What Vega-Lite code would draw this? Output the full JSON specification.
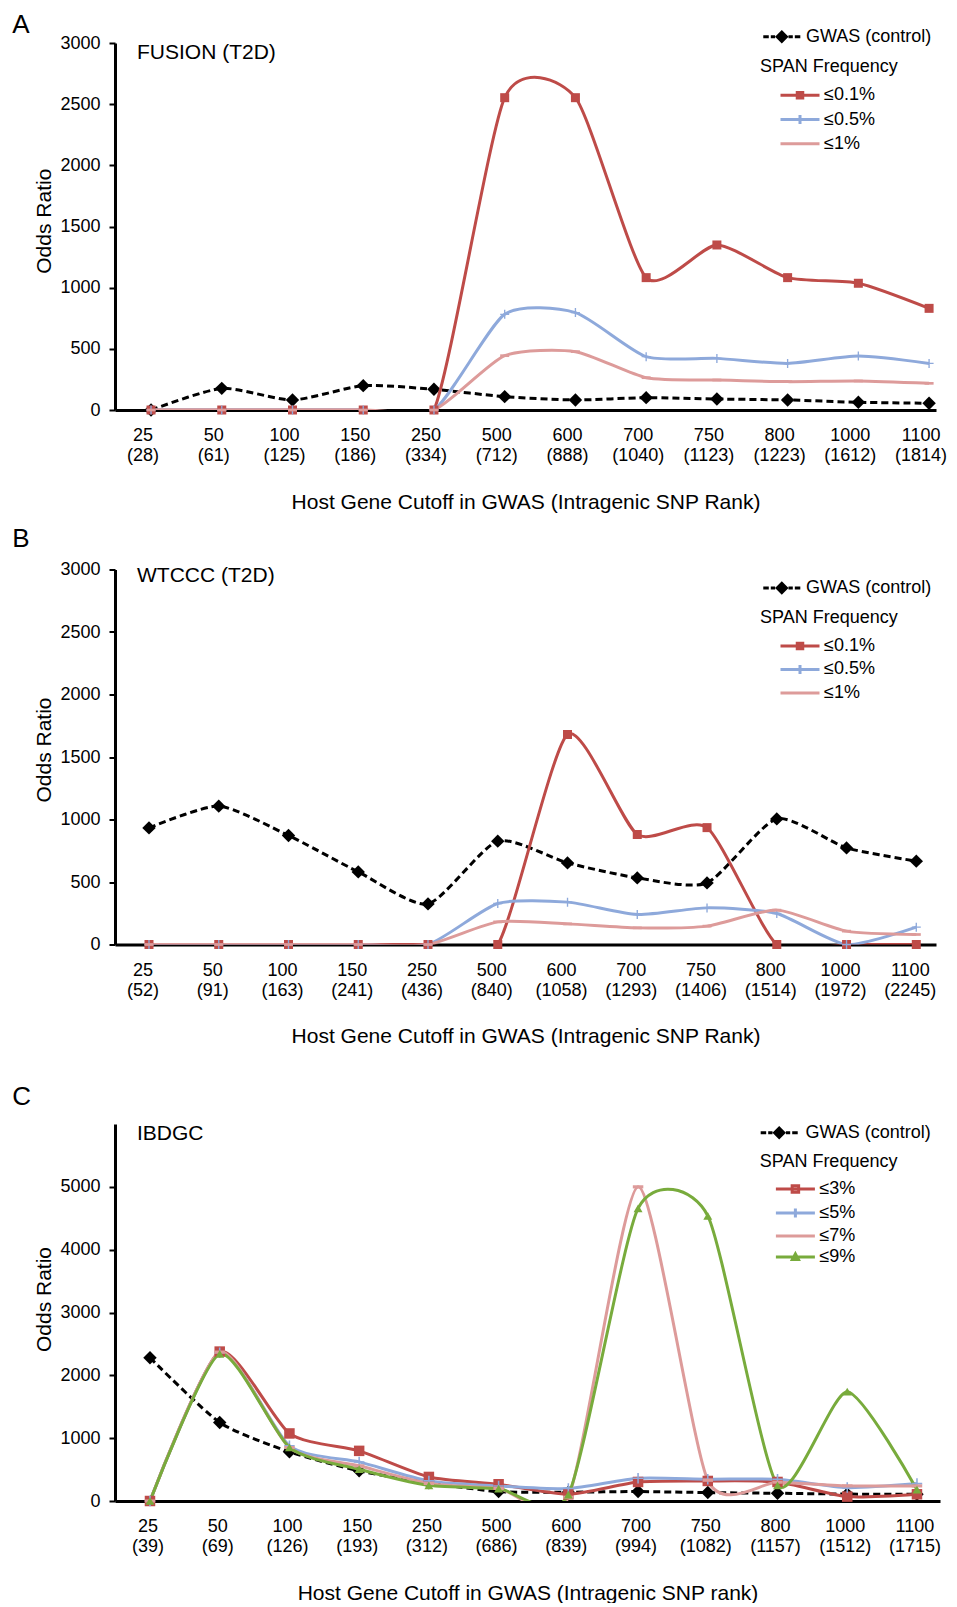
{
"$schema": "https://vega.github.io/schema/vega-lite/v6.json",
"background": "white",
"padding": {"left": 12, "top": 11, "right": 0, "bottom": 0},
"datasets": {
"fusion": [
{"cutoff":"25\n(28)","series":"GWAS (control)","odds":0},{"cutoff":"50\n(61)","series":"GWAS (control)","odds":177},{"cutoff":"100\n(125)","series":"GWAS (control)","odds":82},{"cutoff":"150\n(186)","series":"GWAS (control)","odds":199},{"cutoff":"250\n(334)","series":"GWAS (control)","odds":169},{"cutoff":"500\n(712)","series":"GWAS (control)","odds":109},{"cutoff":"600\n(888)","series":"GWAS (control)","odds":82},{"cutoff":"700\n(1040)","series":"GWAS (control)","odds":101},{"cutoff":"750\n(1123)","series":"GWAS (control)","odds":90},{"cutoff":"800\n(1223)","series":"GWAS (control)","odds":82},{"cutoff":"1000\n(1612)","series":"GWAS (control)","odds":63},{"cutoff":"1100\n(1814)","series":"GWAS (control)","odds":55},
{"cutoff":"25\n(28)","series":"≤0.1%","odds":0},{"cutoff":"50\n(61)","series":"≤0.1%","odds":0},{"cutoff":"100\n(125)","series":"≤0.1%","odds":0},{"cutoff":"150\n(186)","series":"≤0.1%","odds":0},{"cutoff":"250\n(334)","series":"≤0.1%","odds":0},{"cutoff":"500\n(712)","series":"≤0.1%","odds":2553},{"cutoff":"600\n(888)","series":"≤0.1%","odds":2553},{"cutoff":"700\n(1040)","series":"≤0.1%","odds":1082},{"cutoff":"750\n(1123)","series":"≤0.1%","odds":1349},{"cutoff":"800\n(1223)","series":"≤0.1%","odds":1082},{"cutoff":"1000\n(1612)","series":"≤0.1%","odds":1036},{"cutoff":"1100\n(1814)","series":"≤0.1%","odds":831},
{"cutoff":"25\n(28)","series":"≤0.5%","odds":0},{"cutoff":"50\n(61)","series":"≤0.5%","odds":0},{"cutoff":"100\n(125)","series":"≤0.5%","odds":0},{"cutoff":"150\n(186)","series":"≤0.5%","odds":0},{"cutoff":"250\n(334)","series":"≤0.5%","odds":0},{"cutoff":"500\n(712)","series":"≤0.5%","odds":782},{"cutoff":"600\n(888)","series":"≤0.5%","odds":796},{"cutoff":"700\n(1040)","series":"≤0.5%","odds":436},{"cutoff":"750\n(1123)","series":"≤0.5%","odds":422},{"cutoff":"800\n(1223)","series":"≤0.5%","odds":381},{"cutoff":"1000\n(1612)","series":"≤0.5%","odds":441},{"cutoff":"1100\n(1814)","series":"≤0.5%","odds":381},
{"cutoff":"25\n(28)","series":"≤1%","odds":0},{"cutoff":"50\n(61)","series":"≤1%","odds":0},{"cutoff":"100\n(125)","series":"≤1%","odds":0},{"cutoff":"150\n(186)","series":"≤1%","odds":0},{"cutoff":"250\n(334)","series":"≤1%","odds":0},{"cutoff":"500\n(712)","series":"≤1%","odds":444},{"cutoff":"600\n(888)","series":"≤1%","odds":477},{"cutoff":"700\n(1040)","series":"≤1%","odds":264},{"cutoff":"750\n(1123)","series":"≤1%","odds":245},{"cutoff":"800\n(1223)","series":"≤1%","odds":232},{"cutoff":"1000\n(1612)","series":"≤1%","odds":237},{"cutoff":"1100\n(1814)","series":"≤1%","odds":218}
],
"wtccc": [
{"cutoff":"25\n(52)","series":"GWAS (control)","odds":933},{"cutoff":"50\n(91)","series":"GWAS (control)","odds":1107},{"cutoff":"100\n(163)","series":"GWAS (control)","odds":872},{"cutoff":"150\n(241)","series":"GWAS (control)","odds":581},{"cutoff":"250\n(436)","series":"GWAS (control)","odds":325},{"cutoff":"500\n(840)","series":"GWAS (control)","odds":827},{"cutoff":"600\n(1058)","series":"GWAS (control)","odds":653},{"cutoff":"700\n(1293)","series":"GWAS (control)","odds":533},{"cutoff":"750\n(1406)","series":"GWAS (control)","odds":493},{"cutoff":"800\n(1514)","series":"GWAS (control)","odds":1005},{"cutoff":"1000\n(1972)","series":"GWAS (control)","odds":773},{"cutoff":"1100\n(2245)","series":"GWAS (control)","odds":667},
{"cutoff":"25\n(52)","series":"≤0.1%","odds":0},{"cutoff":"50\n(91)","series":"≤0.1%","odds":0},{"cutoff":"100\n(163)","series":"≤0.1%","odds":0},{"cutoff":"150\n(241)","series":"≤0.1%","odds":0},{"cutoff":"250\n(436)","series":"≤0.1%","odds":0},{"cutoff":"500\n(840)","series":"≤0.1%","odds":0},{"cutoff":"600\n(1058)","series":"≤0.1%","odds":1680},{"cutoff":"700\n(1293)","series":"≤0.1%","odds":880},{"cutoff":"750\n(1406)","series":"≤0.1%","odds":935},{"cutoff":"800\n(1514)","series":"≤0.1%","odds":0},{"cutoff":"1000\n(1972)","series":"≤0.1%","odds":0},{"cutoff":"1100\n(2245)","series":"≤0.1%","odds":0},
{"cutoff":"25\n(52)","series":"≤0.5%","odds":0},{"cutoff":"50\n(91)","series":"≤0.5%","odds":0},{"cutoff":"100\n(163)","series":"≤0.5%","odds":0},{"cutoff":"150\n(241)","series":"≤0.5%","odds":0},{"cutoff":"250\n(436)","series":"≤0.5%","odds":0},{"cutoff":"500\n(840)","series":"≤0.5%","odds":328},{"cutoff":"600\n(1058)","series":"≤0.5%","odds":339},{"cutoff":"700\n(1293)","series":"≤0.5%","odds":240},{"cutoff":"750\n(1406)","series":"≤0.5%","odds":293},{"cutoff":"800\n(1514)","series":"≤0.5%","odds":248},{"cutoff":"1000\n(1972)","series":"≤0.5%","odds":0},{"cutoff":"1100\n(2245)","series":"≤0.5%","odds":139},
{"cutoff":"25\n(52)","series":"≤1%","odds":0},{"cutoff":"50\n(91)","series":"≤1%","odds":0},{"cutoff":"100\n(163)","series":"≤1%","odds":0},{"cutoff":"150\n(241)","series":"≤1%","odds":0},{"cutoff":"250\n(436)","series":"≤1%","odds":0},{"cutoff":"500\n(840)","series":"≤1%","odds":181},{"cutoff":"600\n(1058)","series":"≤1%","odds":165},{"cutoff":"700\n(1293)","series":"≤1%","odds":133},{"cutoff":"750\n(1406)","series":"≤1%","odds":147},{"cutoff":"800\n(1514)","series":"≤1%","odds":275},{"cutoff":"1000\n(1972)","series":"≤1%","odds":107},{"cutoff":"1100\n(2245)","series":"≤1%","odds":80}
],
"ibdgc": [
{"cutoff":"25\n(39)","series":"GWAS (control)","odds":2280},{"cutoff":"50\n(69)","series":"GWAS (control)","odds":1250},{"cutoff":"100\n(126)","series":"GWAS (control)","odds":782},{"cutoff":"150\n(193)","series":"GWAS (control)","odds":480},{"cutoff":"250\n(312)","series":"GWAS (control)","odds":290},{"cutoff":"500\n(686)","series":"GWAS (control)","odds":150},{"cutoff":"600\n(839)","series":"GWAS (control)","odds":140},{"cutoff":"700\n(994)","series":"GWAS (control)","odds":150},{"cutoff":"750\n(1082)","series":"GWAS (control)","odds":134},{"cutoff":"800\n(1157)","series":"GWAS (control)","odds":123},{"cutoff":"1000\n(1512)","series":"GWAS (control)","odds":110},{"cutoff":"1100\n(1715)","series":"GWAS (control)","odds":107},
{"cutoff":"25\n(39)","series":"≤3%","odds":0},{"cutoff":"50\n(69)","series":"≤3%","odds":2378},{"cutoff":"100\n(126)","series":"≤3%","odds":1075},{"cutoff":"150\n(193)","series":"≤3%","odds":798},{"cutoff":"250\n(312)","series":"≤3%","odds":383},{"cutoff":"500\n(686)","series":"≤3%","odds":267},{"cutoff":"600\n(839)","series":"≤3%","odds":107},{"cutoff":"700\n(994)","series":"≤3%","odds":303},{"cutoff":"750\n(1082)","series":"≤3%","odds":319},{"cutoff":"800\n(1157)","series":"≤3%","odds":303},{"cutoff":"1000\n(1512)","series":"≤3%","odds":70},{"cutoff":"1100\n(1715)","series":"≤3%","odds":107},
{"cutoff":"25\n(39)","series":"≤5%","odds":0},{"cutoff":"50\n(69)","series":"≤5%","odds":2360},{"cutoff":"100\n(126)","series":"≤5%","odds":878},{"cutoff":"150\n(193)","series":"≤5%","odds":622},{"cutoff":"250\n(312)","series":"≤5%","odds":320},{"cutoff":"500\n(686)","series":"≤5%","odds":240},{"cutoff":"600\n(839)","series":"≤5%","odds":198},{"cutoff":"700\n(994)","series":"≤5%","odds":362},{"cutoff":"750\n(1082)","series":"≤5%","odds":346},{"cutoff":"800\n(1157)","series":"≤5%","odds":346},{"cutoff":"1000\n(1512)","series":"≤5%","odds":213},{"cutoff":"1100\n(1715)","series":"≤5%","odds":277},
{"cutoff":"25\n(39)","series":"≤7%","odds":0},{"cutoff":"50\n(69)","series":"≤7%","odds":2370},{"cutoff":"100\n(126)","series":"≤7%","odds":850},{"cutoff":"150\n(193)","series":"≤7%","odds":560},{"cutoff":"250\n(312)","series":"≤7%","odds":280},{"cutoff":"500\n(686)","series":"≤7%","odds":200},{"cutoff":"600\n(839)","series":"≤7%","odds":60},{"cutoff":"700\n(994)","series":"≤7%","odds":5000},{"cutoff":"750\n(1082)","series":"≤7%","odds":330},{"cutoff":"800\n(1157)","series":"≤7%","odds":300},{"cutoff":"1000\n(1512)","series":"≤7%","odds":240},{"cutoff":"1100\n(1715)","series":"≤7%","odds":240},
{"cutoff":"25\n(39)","series":"≤9%","odds":0},{"cutoff":"50\n(69)","series":"≤9%","odds":2340},{"cutoff":"100\n(126)","series":"≤9%","odds":852},{"cutoff":"150\n(193)","series":"≤9%","odds":506},{"cutoff":"250\n(312)","series":"≤9%","odds":250},{"cutoff":"500\n(686)","series":"≤9%","odds":198},{"cutoff":"600\n(839)","series":"≤9%","odds":100},{"cutoff":"700\n(994)","series":"≤9%","odds":4656},{"cutoff":"750\n(1082)","series":"≤9%","odds":4539},{"cutoff":"800\n(1157)","series":"≤9%","odds":250},{"cutoff":"1000\n(1512)","series":"≤9%","odds":1740},{"cutoff":"1100\n(1715)","series":"≤9%","odds":180}
]
},
"resolve": {"scale": {"color": "independent", "size": "independent"}, "legend": {"color": "independent", "size": "independent"}},
"vconcat": [
{"resolve": {"scale": {"color": "independent", "size": "independent"}, "legend": {"color": "independent", "size": "independent"}},
"vconcat": [
{
"resolve": {"scale": {"color": "independent", "size": "independent"}, "legend": {"color": "independent", "size": "independent"}},
"title": {"text": "A", "anchor": "start", "frame": "bounds", "fontSize": 26, "fontWeight": "normal", "baseline": "middle", "offset": -23.2, "dx": -20.9},
"vconcat": [{
"width": 821, "height": 367,
"data": {"name": "fusion"},
"title": {"text": "FUSION (T2D)", "anchor": "start", "frame": "group", "dx": 22, "offset": -46.2, "baseline": "middle", "fontSize": 21, "fontWeight": "normal"},
"encoding": {
"x": {"field": "cutoff", "type": "nominal", "sort": null, "scale": {"type": "point", "padding": 0.3036, "align": 0.839}, "axis": {"title": "Host Gene Cutoff in GWAS (Intragenic SNP Rank)", "labelExpr": "split(datum.label, '\\n')", "labelOffset": -8.5}},
"y": {"field": "odds", "type": "quantitative", "scale": {"domain": [0, 3000], "nice": false}, "axis": {"title": "Odds Ratio", "titleY": 177.7, "format": "d", "values": [0, 500, 1000, 1500, 2000, 2500, 3000]}}
},
"layer": [
{"transform": [{"filter": "datum.series === 'GWAS (control)'"}],
 "mark": {"type": "line", "color": "black", "strokeWidth": 3, "strokeDash": [7, 4], "interpolate": "cardinal", "tension": 0.35, "clip": true}},
{"transform": [{"filter": "datum.series === 'GWAS (control)'"}],
 "mark": {"type": "point", "shape": "diamond", "filled": true, "color": "black", "opacity": 1},
 "encoding": {"size": {"datum": "GWAS (control)", "type": "nominal", "scale": {"type": "point", "range": [180, 180]},
   "legend": {"title": null, "orient": "none", "legendX": 657.8, "legendY": -15.2, "labelOffset": 15.2, "padding": 0,
     "symbolType": "M-2.76,-0.22L-1.94,-0.22L-1.94,0.22L-2.76,0.22ZM-1.64,-0.22L-1,-0.22L-1,0.22L-1.64,0.22ZM-1,0L0,-1L1,0L0,1ZM1,-0.22L1.64,-0.22L1.64,0.22L1,0.22ZM1.94,-0.22L2.76,-0.22L2.76,0.22L1.94,0.22Z"}}}},
{"transform": [{"filter": "datum.series !== 'GWAS (control)'"}],
 "mark": {"type": "line", "strokeWidth": 3, "interpolate": "cardinal", "tension": 0.35, "clip": true},
 "encoding": {"color": {"field": "series", "type": "nominal", "scale": {"domain": ["≤0.1%", "≤0.5%", "≤1%"], "range": ["#BE4B48", "#8EA9DB", "#DD9B9A"]},
   "legend": {"title": "SPAN Frequency", "orient": "none", "legendX": 645, "legendY": 15.4, "titlePadding": 9.9, "rowPadding": 4.2, "symbolSize": 100, "symbolStrokeWidth": 3, "symbolOffset": 31, "labelOffset": 15, "padding": 0, "symbolType": "M-3.9,0L3.9,0",
     "encode": {"symbols": {"update": {"shape": {"signal": "datum.index === 0 ? 'M-3.9,0L3.9,0M-0.55,-0.55L0.55,-0.55L0.55,0.55L-0.55,0.55Z' : datum.index === 1 ? 'M-3.9,0L3.9,0M0,-0.9L0,0.9' : 'M-3.9,0L3.9,0'"}}}}}}}},
{"transform": [{"filter": "datum.series === '≤0.1%'"}], "mark": {"type": "point", "shape": "square", "filled": true, "color": "#BE4B48", "size": 81, "opacity": 1}},
{"transform": [{"filter": "datum.series === '≤0.5%'"}], "mark": {"type": "point", "shape": "M-1,-0.15L-0.15,-0.15L-0.15,-1L0.15,-1L0.15,-0.15L1,-0.15L1,0.15L0.15,0.15L0.15,1L-0.15,1L-0.15,0.15L-1,0.15Z", "filled": true, "color": "#8EA9DB", "size": 81, "opacity": 1}},
{"transform": [{"filter": "datum.series === '≤1%'"}], "mark": {"type": "point", "shape": "M-1,-0.3L1,-0.3L1,0.3L-1,0.3Z", "filled": true, "color": "#DD9B9A", "size": 81, "opacity": 1}}
]
}]
},
{
"resolve": {"scale": {"color": "independent", "size": "independent"}, "legend": {"color": "independent", "size": "independent"}},
"title": {"text": "B", "anchor": "start", "frame": "bounds", "fontSize": 26, "fontWeight": "normal", "baseline": "middle", "offset": -4.5, "dx": -20.9},
"vconcat": [{
"width": 821, "height": 375,
"data": {"name": "wtccc"},
"title": {"text": "WTCCC (T2D)", "anchor": "start", "frame": "group", "dx": 22, "offset": -36, "baseline": "middle", "fontSize": 21, "fontWeight": "normal"},
"encoding": {
"x": {"field": "cutoff", "type": "nominal", "sort": null, "scale": {"type": "point", "padding": 0.385, "align": 0.633}, "axis": {"title": "Host Gene Cutoff in GWAS (Intragenic SNP Rank)", "labelExpr": "split(datum.label, '\\n')", "labelOffset": -6.5}},
"y": {"field": "odds", "type": "quantitative", "scale": {"domain": [0, 3000], "nice": false}, "axis": {"title": "Odds Ratio", "titleY": 180, "format": "d", "values": [0, 500, 1000, 1500, 2000, 2500, 3000]}}
},
"layer": [
{"transform": [{"filter": "datum.series === 'GWAS (control)'"}],
 "mark": {"type": "line", "color": "black", "strokeWidth": 3, "strokeDash": [7, 4], "interpolate": "cardinal", "tension": 0.35, "clip": true}},
{"transform": [{"filter": "datum.series === 'GWAS (control)'"}],
 "mark": {"type": "point", "shape": "diamond", "filled": true, "color": "black", "opacity": 1},
 "encoding": {"size": {"datum": "GWAS (control)", "type": "nominal", "scale": {"type": "point", "range": [180, 180]},
   "legend": {"title": null, "orient": "none", "legendX": 657.8, "legendY": 9.5, "labelOffset": 15.2, "padding": 0,
     "symbolType": "M-2.76,-0.22L-1.94,-0.22L-1.94,0.22L-2.76,0.22ZM-1.64,-0.22L-1,-0.22L-1,0.22L-1.64,0.22ZM-1,0L0,-1L1,0L0,1ZM1,-0.22L1.64,-0.22L1.64,0.22L1,0.22ZM1.94,-0.22L2.76,-0.22L2.76,0.22L1.94,0.22Z"}}}},
{"transform": [{"filter": "datum.series !== 'GWAS (control)'"}],
 "mark": {"type": "line", "strokeWidth": 3, "interpolate": "cardinal", "tension": 0.35, "clip": true},
 "encoding": {"color": {"field": "series", "type": "nominal", "scale": {"domain": ["≤0.1%", "≤0.5%", "≤1%"], "range": ["#BE4B48", "#8EA9DB", "#DD9B9A"]},
   "legend": {"title": "SPAN Frequency", "orient": "none", "legendX": 645, "legendY": 39.5, "titlePadding": 9.9, "rowPadding": 3.5, "symbolSize": 100, "symbolStrokeWidth": 3, "symbolOffset": 31, "labelOffset": 15, "padding": 0, "symbolType": "M-3.9,0L3.9,0",
     "encode": {"symbols": {"update": {"shape": {"signal": "datum.index === 0 ? 'M-3.9,0L3.9,0M-0.55,-0.55L0.55,-0.55L0.55,0.55L-0.55,0.55Z' : datum.index === 1 ? 'M-3.9,0L3.9,0M0,-0.9L0,0.9' : 'M-3.9,0L3.9,0'"}}}}}}}},
{"transform": [{"filter": "datum.series === '≤0.1%'"}], "mark": {"type": "point", "shape": "square", "filled": true, "color": "#BE4B48", "size": 81, "opacity": 1}},
{"transform": [{"filter": "datum.series === '≤0.5%'"}], "mark": {"type": "point", "shape": "M-1,-0.15L-0.15,-0.15L-0.15,-1L0.15,-1L0.15,-0.15L1,-0.15L1,0.15L0.15,0.15L0.15,1L-0.15,1L-0.15,0.15L-1,0.15Z", "filled": true, "color": "#8EA9DB", "size": 81, "opacity": 1}},
{"transform": [{"filter": "datum.series === '≤1%'"}], "mark": {"type": "point", "shape": "M-1,-0.3L1,-0.3L1,0.3L-1,0.3Z", "filled": true, "color": "#DD9B9A", "size": 81, "opacity": 1}}
]
}]
}
], "spacing": 13.5},
{
"resolve": {"scale": {"color": "independent", "size": "independent"}, "legend": {"color": "independent", "size": "independent"}},
"title": {"text": "C", "anchor": "start", "frame": "bounds", "fontSize": 26, "fontWeight": "normal", "baseline": "middle", "offset": 0, "dx": -20.9},
"vconcat": [{
"width": 825, "height": 377,
"data": {"name": "ibdgc"},
"title": {"text": "IBDGC", "anchor": "start", "frame": "group", "dx": 22, "offset": -31.3, "baseline": "middle", "fontSize": 21, "fontWeight": "normal"},
"encoding": {
"x": {"field": "cutoff", "type": "nominal", "sort": null, "scale": {"type": "point", "padding": 0.416, "align": 0.603}, "axis": {"title": "Host Gene Cutoff in GWAS (Intragenic SNP rank)", "labelExpr": "split(datum.label, '\\n')", "labelOffset": -2.5}},
"y": {"field": "odds", "type": "quantitative", "scale": {"domain": [0, 6000], "nice": false}, "axis": {"title": "Odds Ratio", "titleY": 175, "format": "d", "values": [0, 1000, 2000, 3000, 4000, 5000]}}
},
"layer": [
{"transform": [{"filter": "datum.series === 'GWAS (control)'"}],
 "mark": {"type": "line", "color": "black", "strokeWidth": 3, "strokeDash": [7, 4], "interpolate": "cardinal", "tension": 0.35, "clip": true}},
{"transform": [{"filter": "datum.series === 'GWAS (control)'"}],
 "mark": {"type": "point", "shape": "diamond", "filled": true, "color": "black", "opacity": 1},
 "encoding": {"size": {"datum": "GWAS (control)", "type": "nominal", "scale": {"type": "point", "range": [180, 180]},
   "legend": {"title": null, "orient": "none", "legendX": 655.2, "legendY": -0.2, "labelOffset": 17.3, "padding": 0,
     "symbolType": "M-2.76,-0.22L-1.94,-0.22L-1.94,0.22L-2.76,0.22ZM-1.64,-0.22L-1,-0.22L-1,0.22L-1.64,0.22ZM-1,0L0,-1L1,0L0,1ZM1,-0.22L1.64,-0.22L1.64,0.22L1,0.22ZM1.94,-0.22L2.76,-0.22L2.76,0.22L1.94,0.22Z"}}}},
{"transform": [{"filter": "datum.series !== 'GWAS (control)'"}],
 "mark": {"type": "line", "strokeWidth": 3, "interpolate": "cardinal", "tension": 0.35, "clip": true},
 "encoding": {"color": {"field": "series", "type": "nominal", "scale": {"domain": ["≤3%", "≤5%", "≤7%", "≤9%"], "range": ["#BE4B48", "#8EA9DB", "#DD9B9A", "#78AB3C"]},
   "legend": {"title": "SPAN Frequency", "orient": "none", "legendX": 644.7, "legendY": 29.3, "titlePadding": 8.6, "rowPadding": 3.0, "symbolSize": 100, "symbolStrokeWidth": 3, "symbolOffset": 26.7, "labelOffset": 15, "padding": 0, "symbolType": "M-3.9,0L3.9,0",
     "encode": {"symbols": {"update": {"shape": {"signal": "datum.index === 0 ? 'M-3.9,0L3.9,0M-0.65,-0.65L0.65,-0.65L0.65,0.65L-0.65,0.65Z' : datum.index === 1 ? 'M-3.9,0L3.9,0M0,-0.9L0,0.9' : datum.index === 2 ? 'M-3.9,0L3.9,0' : 'M-3.9,0L3.9,0M-0.6,0.5L0,-0.6L0.6,0.5Z'"}}}}}}}},
{"transform": [{"filter": "datum.series === '≤3%'"}], "mark": {"type": "point", "shape": "square", "filled": true, "color": "#BE4B48", "size": 110, "opacity": 1}},
{"transform": [{"filter": "datum.series === '≤5%'"}], "mark": {"type": "point", "shape": "M-1,-0.15L-0.15,-0.15L-0.15,-1L0.15,-1L0.15,-0.15L1,-0.15L1,0.15L0.15,0.15L0.15,1L-0.15,1L-0.15,0.15L-1,0.15Z", "filled": true, "color": "#8EA9DB", "size": 110, "opacity": 1}},
{"transform": [{"filter": "datum.series === '≤7%'"}], "mark": {"type": "point", "shape": "M-1,-0.3L1,-0.3L1,0.3L-1,0.3Z", "filled": true, "color": "#DD9B9A", "size": 110, "opacity": 1}},
{"transform": [{"filter": "datum.series === '≤9%'"}], "mark": {"type": "point", "shape": "triangle-up", "filled": true, "color": "#78AB3C", "size": 80, "opacity": 1}}
]
}]
}
],
"spacing": 37,
"config": {
"font": "Liberation Sans",
"view": {"stroke": null},
"title": {"font": "Liberation Sans", "color": "black", "fontWeight": "normal"},
"axis": {"domainColor": "black", "domainWidth": 3, "grid": false, "labelColor": "black", "titleColor": "black", "labelFontSize": 18, "titleFontSize": 21, "titleFontWeight": "normal", "labelFont": "Liberation Sans", "titleFont": "Liberation Sans"},
"axisX": {"labelAngle": 0, "ticks": false, "labelPadding": 16.5, "labelLineHeight": 20, "titlePadding": 26.5},
"axisY": {"ticks": true, "tickSize": 6, "tickWidth": 2, "tickColor": "black", "labelPadding": 9, "titlePadding": 5.7},
"legend": {"labelFont": "Liberation Sans", "titleFont": "Liberation Sans", "labelColor": "black", "titleColor": "black", "labelFontSize": 18, "titleFontSize": 18, "titleFontWeight": "normal", "padding": 0}
}
}
